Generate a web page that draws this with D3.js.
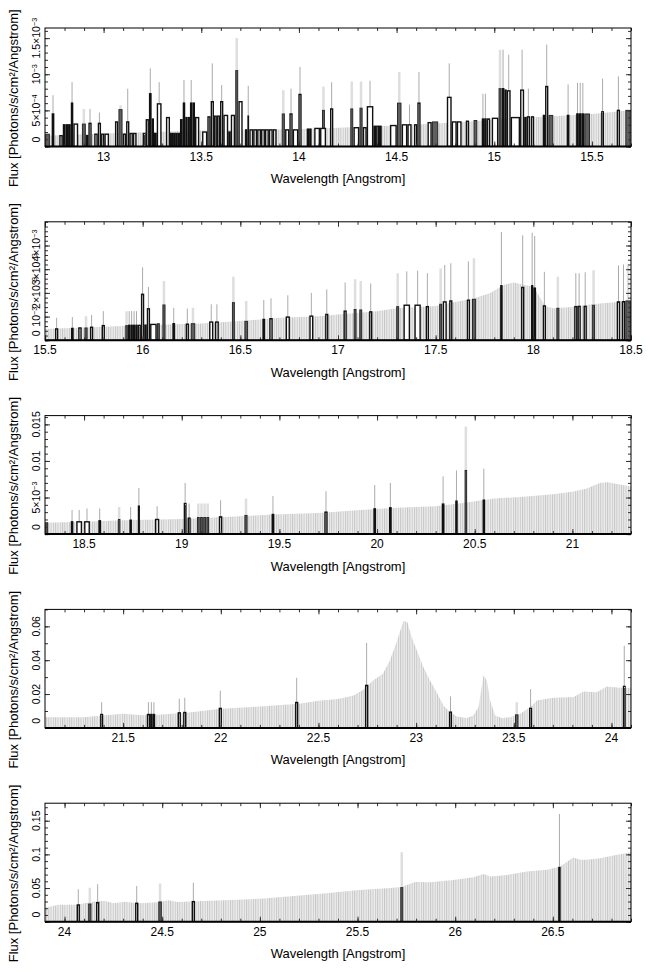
<!doctype html>
<html>
<head>
<meta charset="utf8">
<script src="https://d3js.org/d3.v7.min.js"></script>
<style>
  body { margin: 0; background: #fff; font-family: 'Liberation Sans', Arial, sans-serif; }
</style>
</head>
<body>
<script>
const w = 653, h = 972;
const left = 45, right = 631;
const top0 = 28, gap = 193.8, ph = 118.5;

// x ranges of the five strips (Angstrom)
const xDomains = [[12.7, 15.7], [15.5, 18.5], [18.3, 21.3], [21.1, 24.1], [23.9, 26.9]];
const yMax = [1.64e-3, 5.0e-3, 0.0162, 0.07, 0.176];

// tick labels
const xTicks = [
  [13, 13.5, 14, 14.5, 15, 15.5],
  [15.5, 16, 16.5, 17, 17.5, 18, 18.5],
  [18.5, 19, 19.5, 20, 20.5, 21],
  [21.5, 22, 22.5, 23, 23.5, 24],
  [24, 24.5, 25, 25.5, 26, 26.5]
];
const yTicks = [
  [0, 5e-4, 1e-3, 1.5e-3],
  [0, 1e-3, 2e-3, 3e-3, 4e-3],
  [0, 5e-3, 0.01, 0.015],
  [0, 0.02, 0.04, 0.06],
  [0, 0.05, 0.1, 0.15]
];
const yLabels = [
  ['0', '5×10^−4', '10^−3', '1.5×10^−3'],
  ['0', '10^−3', '2×10^−3', '3×10^−3', '4×10^−3'],
  ['0', '5×10^−3', '0.01', '0.015'],
  ['0', '0.02', '0.04', '0.06'],
  ['0', '0.05', '0.1', '0.15']
];
const yMinor = [1e-4, 2e-4, 1e-3, 0.01, 0.01];

// model curves [wavelength, flux]
const model1 = [[12.7,1.5e-4],[13.0,1.8e-4],[13.5,2.2e-4],[14.0,2.4e-4],[14.2,2.6e-4],[14.5,2.9e-4],
  [14.7,3.2e-4],[14.9,3.5e-4],[15.1,3.9e-4],[15.3,4.2e-4],[15.5,4.5e-4],[15.7,5.0e-4]];
const model2 = [[15.5,0.48e-3],[15.8,0.57e-3],[16.0,0.64e-3],[16.3,0.71e-3],[16.5,0.81e-3],[16.7,0.95e-3],
  [16.9,1.02e-3],[17.0,1.09e-3],[17.2,1.23e-3],[17.3,1.35e-3],[17.5,1.45e-3],[17.6,1.62e-3],[17.7,1.77e-3],
  [17.78,2.0e-3],[17.85,2.34e-3],[17.9,2.44e-3],[17.95,2.34e-3],[18.0,2.26e-3],[18.03,1.87e-3],[18.06,1.45e-3],
  [18.1,1.35e-3],[18.2,1.4e-3],[18.3,1.52e-3],[18.4,1.59e-3],[18.5,1.66e-3]];
const model3 = [[18.3,1.55e-3],[18.5,1.68e-3],[18.7,1.9e-3],[19.0,2.05e-3],[19.3,2.45e-3],[19.5,2.7e-3],
  [19.7,2.9e-3],[19.9,3.27e-3],[20.1,3.6e-3],[20.3,3.8e-3],[20.45,4.3e-3],[20.6,4.86e-3],[20.75,5.1e-3],
  [20.9,5.45e-3],[21.0,5.8e-3],[21.07,6.2e-3],[21.14,7.0e-3],[21.18,7.1e-3],[21.3,6.5e-3]];
const model4 = [[21.1,6.3e-3],[21.3,6.3e-3],[21.35,6.9e-3],[21.5,8.3e-3],[21.6,7.5e-3],[21.7,7.9e-3],
  [21.85,9.3e-3],[22.0,1.13e-2],[22.2,1.26e-2],[22.4,1.42e-2],[22.5,1.6e-2],[22.6,1.7e-2],[22.68,1.92e-2],
  [22.73,2.25e-2],[22.78,2.8e-2],[22.83,3.2e-2],[22.866,4.0e-2],[22.9,5.07e-2],[22.935,6.32e-2],
  [22.955,6.26e-2],[22.977,5.37e-2],[23.003,4.58e-2],[23.037,3.6e-2],[23.071,2.8e-2],[23.105,2.11e-2],
  [23.14,1.32e-2],[23.174,9.3e-3],[23.208,6.7e-3],[23.259,5.9e-3],[23.293,7.3e-3],[23.319,1.22e-2],
  [23.345,3.1e-2],[23.362,2.8e-2],[23.379,1.62e-2],[23.404,7.3e-3],[23.438,5.9e-3],[23.481,6.3e-3],
  [23.532,8.3e-3],[23.584,1.22e-2],[23.618,1.62e-2],[23.703,1.78e-2],[23.806,1.82e-2],[23.857,2.15e-2],
  [23.925,2.11e-2],[23.976,2.45e-2],[24.044,2.37e-2],[24.1,2.37e-2]];
const model5 = [[23.9,2.09e-2],[23.97,2.5e-2],[24.055,2.5e-2],[24.175,3.08e-2],[24.21,3.08e-2],[24.25,2.73e-2],
  [24.31,2.98e-2],[24.38,2.73e-2],[24.48,2.88e-2],[24.53,3.18e-2],[24.58,2.93e-2],[24.71,3.08e-2],
  [24.85,3.23e-2],[25.02,3.43e-2],[25.19,3.87e-2],[25.34,4.22e-2],[25.39,4.37e-2],[25.51,4.72e-2],
  [25.65,4.97e-2],[25.727,5.16e-2],[25.752,5.46e-2],[25.795,5.91e-2],[25.871,5.86e-2],[25.991,6.2e-2],
  [26.093,6.6e-2],[26.145,7.1e-2],[26.18,6.7e-2],[26.265,6.95e-2],[26.367,7.45e-2],[26.47,7.7e-2],
  [26.537,8.2e-2],[26.58,9.04e-2],[26.605,9.53e-2],[26.64,9.2e-2],[26.674,9.2e-2],[26.742,9.43e-2],
  [26.81,9.83e-2],[26.9,1.03e-1]];

// data bins [lo, hi, flux, upper error] - open (black outline) spectrum
const open1 = [[12.734,12.748,4.5e-4,7.1e-4],[12.773,12.791,1.5e-4,null],[12.791,12.805,3.0e-4,null],
  [12.805,12.818,3.0e-4,null],[12.818,12.832,3.0e-4,null],[12.832,12.845,6.0e-4,8.9e-4],[12.845,12.870,3.1e-4,null],
  [12.910,12.922,1.5e-4,null],[12.922,12.939,3.2e-4,5.2e-4],[12.952,12.970,1.7e-4,null],[12.970,12.987,3.2e-4,4.7e-4],
  [12.987,13.004,1.7e-4,null],[13.004,13.028,1.7e-4,null],[13.058,13.075,3.4e-4,null],[13.098,13.115,1.7e-4,null],
  [13.115,13.132,3.4e-4,8.0e-4],[13.132,13.150,1.8e-4,null],[13.150,13.169,1.8e-4,null],[13.200,13.215,1.8e-4,null],
  [13.215,13.232,3.7e-4,null],[13.232,13.246,7.3e-4,1.08e-3],[13.246,13.258,3.8e-4,null],[13.258,13.272,1.8e-4,null],
  [13.272,13.297,5.9e-4,8.9e-4],[13.319,13.340,4.0e-4,null],[13.340,13.350,1.8e-4,null],[13.350,13.360,1.8e-4,null],
  [13.360,13.370,1.8e-4,null],[13.370,13.380,1.8e-4,null],[13.380,13.391,1.8e-4,null],[13.391,13.405,3.7e-4,null],
  [13.405,13.418,6.0e-4,9.2e-4],[13.418,13.430,4.0e-4,null],[13.430,13.442,4.0e-4,null],[13.442,13.455,6.0e-4,9.2e-4],
  [13.455,13.468,6.0e-4,null],[13.468,13.490,4.0e-4,null],[13.504,13.531,2.0e-4,null],[13.531,13.548,4.1e-4,null],
  [13.548,13.565,6.2e-4,1.15e-3],[13.565,13.580,4.2e-4,null],[13.580,13.596,4.2e-4,null],[13.596,13.613,6.2e-4,8.5e-4],
  [13.613,13.638,4.3e-4,null],[13.638,13.651,2.0e-4,null],[13.651,13.673,4.3e-4,null],[13.690,13.712,6.2e-4,null],
  [13.724,13.736,2.3e-4,null],[13.736,13.745,4.2e-4,8.4e-4],[13.746,13.766,2.3e-4,null],[13.766,13.786,2.3e-4,null],
  [13.786,13.806,2.3e-4,null],[13.806,13.826,2.3e-4,null],[13.826,13.846,2.3e-4,null],[13.846,13.866,2.3e-4,null],
  [13.866,13.886,2.3e-4,null],[13.929,13.951,2.3e-4,null],[13.951,13.968,4.5e-4,8.0e-4],[13.968,13.997,2.3e-4,null],
  [13.997,14.014,7.2e-4,1.1e-3],[14.040,14.052,2.4e-4,null],[14.052,14.065,2.4e-4,null],[14.078,14.108,2.5e-4,null],
  [14.108,14.139,2.5e-4,null],[14.159,14.176,5.2e-4,8.9e-4],[14.279,14.309,2.6e-4,null],[14.327,14.347,2.6e-4,null],
  [14.347,14.381,5.5e-4,9.1e-4],[14.381,14.395,2.8e-4,null],[14.395,14.410,2.8e-4,null],[14.410,14.424,2.8e-4,null],
  [14.466,14.501,2.9e-4,null],[14.526,14.555,3.0e-4,null],[14.555,14.577,3.0e-4,5.8e-4],[14.589,14.606,3.0e-4,null],
  [14.606,14.623,6.0e-4,1.03e-3],[14.658,14.680,3.3e-4,null],[14.757,14.782,6.8e-4,1.15e-3],[14.782,14.808,3.4e-4,null],
  [14.808,14.833,3.4e-4,null],[14.854,14.871,3.5e-4,null],[14.936,14.948,3.8e-4,7.3e-4],[14.948,14.961,3.8e-4,7.3e-4],
  [14.961,14.979,3.8e-4,null],[14.987,15.021,3.9e-4,null],[15.038,15.052,8.0e-4,1.34e-3],[15.052,15.064,7.8e-4,null],
  [15.064,15.084,7.7e-4,1.27e-3],[15.084,15.132,4.0e-4,null],[15.132,15.153,7.8e-4,1.34e-3],[15.153,15.166,4.0e-4,null],
  [15.166,15.183,4.1e-4,8.0e-4],[15.187,15.204,4.1e-4,null],[15.248,15.260,4.3e-4,null],[15.260,15.277,8.3e-4,1.41e-3],
  [15.371,15.385,4.3e-4,8.6e-4],[15.419,15.433,4.5e-4,8.8e-4],[15.433,15.447,4.5e-4,8.8e-4],[15.447,15.460,4.5e-4,8.8e-4],
  [15.547,15.562,4.8e-4,9.4e-4],[15.627,15.644,5.0e-4,9.7e-4]];
const open2 = [[15.551,15.568,0.48e-3,0.95e-3],[15.633,15.647,0.50e-3,0.98e-3],[15.670,15.688,0.52e-3,null],
  [15.730,15.747,0.55e-3,1.07e-3],[15.790,15.807,0.62e-3,1.23e-3],[15.925,15.937,0.63e-3,1.23e-3],
  [15.937,15.950,0.63e-3,1.23e-3],[15.950,15.962,0.63e-3,1.23e-3],[15.962,15.975,0.63e-3,1.23e-3],
  [15.975,15.991,0.63e-3,null],[15.991,16.008,1.94e-3,3.08e-3],[16.008,16.021,0.64e-3,null],
  [16.021,16.038,1.33e-3,2.25e-3],[16.038,16.072,0.67e-3,null],[16.152,16.166,0.70e-3,1.37e-3],
  [16.220,16.237,0.68e-3,1.34e-3],[16.340,16.362,0.77e-3,1.52e-3],[16.370,16.390,0.77e-3,1.52e-3],
  [16.613,16.627,0.88e-3,1.70e-3],[16.648,16.666,0.91e-3,1.77e-3],[16.732,16.754,0.98e-3,1.90e-3],
  [16.853,16.874,1.02e-3,2.00e-3],[16.934,16.951,1.09e-3,2.15e-3],[17.028,17.045,1.23e-3,2.44e-3],
  [17.159,17.176,1.20e-3,2.40e-3],[17.335,17.369,1.48e-3,2.91e-3],[17.391,17.424,1.48e-3,2.94e-3],
  [17.449,17.466,1.42e-3,2.83e-3],[17.536,17.557,1.62e-3,3.18e-3],[17.569,17.586,1.66e-3,3.25e-3],
  [17.659,17.676,1.69e-3,3.33e-3],[17.830,17.843,2.30e-3,4.57e-3],[17.937,17.954,2.23e-3,4.43e-3],
  [17.988,18.000,2.30e-3,4.54e-3],[18.000,18.014,2.20e-3,4.40e-3],[18.048,18.065,1.45e-3,2.89e-3],
  [18.209,18.226,1.42e-3,2.83e-3],[18.226,18.243,1.43e-3,2.83e-3],[18.257,18.274,1.43e-3,2.87e-3],
  [18.427,18.445,1.62e-3,3.16e-3],[18.453,18.470,1.63e-3,3.20e-3]];
const open3 = [[18.432,18.445,1.68e-3,3.3e-3],[18.460,18.490,1.68e-3,3.3e-3],[18.500,18.530,1.68e-3,3.5e-3],
  [18.573,18.587,1.82e-3,3.5e-3],[18.732,18.745,1.90e-3,3.7e-3],[18.775,18.786,3.82e-3,6.3e-3],
  [18.863,18.885,2.00e-3,3.8e-3],[19.010,19.025,4.18e-3,7.0e-3],[19.030,19.046,2.18e-3,4.18e-3],
  [19.190,19.208,2.36e-3,4.64e-3],[19.460,19.474,2.68e-3,5.2e-3],[19.730,19.747,3.00e-3,5.86e-3],
  [19.981,19.995,3.45e-3,6.7e-3],[20.061,20.075,3.60e-3,7.0e-3],[20.331,20.345,4.10e-3,7.9e-3],
  [20.400,20.413,4.50e-3,8.7e-3],[20.540,20.553,4.64e-3,8.95e-3]];
const open4 = [[21.382,21.398,7.9e-3,1.52e-2],[21.621,21.638,7.9e-3,1.52e-2],[21.638,21.651,7.9e-3,1.52e-2],
  [21.651,21.664,7.9e-3,1.52e-2],[21.779,21.796,8.9e-3,1.72e-2],[21.807,21.824,9.1e-3,1.78e-2],
  [21.989,22.006,1.15e-2,2.2e-2],[22.380,22.397,1.5e-2,2.96e-2],[22.738,22.755,2.51e-2,5.02e-2],
  [23.168,23.184,9.3e-3,1.86e-2],[23.578,23.594,1.15e-2,2.29e-2],[24.058,24.073,2.45e-2,4.84e-2]];
const open5 = [[24.062,24.079,2.48e-2,4.82e-2],[24.161,24.178,2.83e-2,5.56e-2],[24.361,24.378,2.73e-2,5.3e-2],
  [24.651,24.668,2.98e-2,5.81e-2],[26.527,26.540,8.04e-2,1.6e-1]];

// data bins [lo, hi, flux, upper error] - filled (dark grey) spectrum
const fill1 = [[12.700,12.726,1.7e-4,null],[12.888,12.910,3.1e-4,5.2e-4],[13.075,13.098,5.1e-4,5.7e-4],
  [13.673,13.690,1.05e-3,1.5e-3],[13.911,13.929,4.5e-4,7.8e-4],[14.117,14.134,5.0e-4,8.3e-4],
  [14.262,14.279,5.2e-4,9.0e-4],[14.309,14.327,5.3e-4,9.0e-4],[14.501,14.526,6.0e-4,1.03e-3],
  [14.680,14.714,3.4e-4,null],[14.893,14.914,3.6e-4,null],[15.021,15.038,8.0e-4,1.34e-3],
  [15.277,15.303,4.3e-4,null],[15.460,15.491,4.5e-4,null],[15.670,15.699,5.0e-4,null]];
const fill2 = [[15.701,15.719,0.52e-3,1.02e-3],[15.910,15.925,0.62e-3,1.23e-3],[16.072,16.089,0.70e-3,null],
  [16.100,16.118,1.49e-3,2.5e-3],[16.245,16.270,0.70e-3,1.37e-3],[16.456,16.473,1.59e-3,2.68e-3],
  [16.520,16.540,0.80e-3,1.66e-3],[17.079,17.096,1.30e-3,2.58e-3],[17.108,17.125,1.28e-3,2.5e-3],
  [17.297,17.314,1.42e-3,2.83e-3],[17.517,17.534,1.52e-3,3.03e-3],[17.685,17.707,1.73e-3,3.46e-3],
  [18.117,18.134,1.35e-3,2.68e-3],[18.300,18.317,1.48e-3,2.96e-3],[18.470,18.500,1.66e-3,3.2e-3]];
const fill3 = [[18.300,18.317,1.55e-3,null],[18.672,18.687,2.0e-3,3.7e-3],[19.077,19.093,2.27e-3,4.18e-3],
  [19.093,19.109,2.27e-3,4.18e-3],[19.109,19.125,2.27e-3,4.18e-3],[19.125,19.141,2.27e-3,4.18e-3],
  [19.320,19.338,2.55e-3,4.86e-3],[20.447,20.462,8.7e-3,1.47e-2]];
const fill4 = [[23.505,23.525,7.7e-3,1.52e-2]];
const fill5 = [[24.120,24.139,2.63e-2,5.06e-2],[24.479,24.499,2.93e-2,5.66e-2],[25.718,25.735,5.06e-2,1.03e-1]];

const models = [model1, model2, model3, model4, model5];
const opens = [open1, open2, open3, open4, open5];
const fills = [fill1, fill2, fill3, fill4, fill5];

const svg = d3.select('body').append('svg')
  .attr('width', w).attr('height', h);

const defs = svg.append('defs');
const pat = defs.append('pattern').attr('id', 'hatch')
  .attr('patternUnits', 'userSpaceOnUse').attr('width', 2.3).attr('height', 6);
pat.append('rect').attr('width', 2.3).attr('height', 6).attr('fill', '#ededed');
pat.append('line').attr('x1', 0.5).attr('x2', 0.5).attr('y1', 0).attr('y2', 6)
  .attr('stroke', '#c4c4c4').attr('stroke-width', 0.9);

function supText(sel, s) {
  const parts = s.split('^');
  sel.append('tspan').text(parts[0]);
  if (parts[1]) sel.append('tspan').attr('dy', '-0.45em').attr('font-size', '0.7em').text(parts[1]);
}

const sw = 1.4; // outline width of the data bins
xDomains.forEach((dom, i) => {
  const t = top0 + i * gap;
  const b = t + ph;
  const x = d3.scaleLinear().domain(dom).range([left, right]);
  const y = d3.scaleLinear().domain([0, yMax[i]]).range([b, t]);

  defs.append('clipPath').attr('id', 'clip' + i)
    .append('rect').attr('x', left).attr('y', t).attr('width', right - left).attr('height', ph);

  const g = svg.append('g').attr('clip-path', `url(#clip${i})`);

  // model
  g.append('path').datum(models[i])
    .attr('d', d3.area().x(d => x(d[0])).y0(b).y1(d => y(d[1])))
    .attr('fill', 'url(#hatch)');

  // error bars
  g.selectAll('.efill').data(fills[i].filter(d => d[3] != null)).enter().append('line')
    .attr('x1', d => x((d[0] + d[1]) / 2)).attr('x2', d => x((d[0] + d[1]) / 2))
    .attr('y1', d => y(d[2])).attr('y2', d => y(d[3]))
    .attr('stroke', '#dedede').attr('stroke-width', 2.5);
  g.selectAll('.eopen').data(opens[i].filter(d => d[3] != null)).enter().append('line')
    .attr('x1', d => x((d[0] + d[1]) / 2)).attr('x2', d => x((d[0] + d[1]) / 2))
    .attr('y1', d => y(d[2])).attr('y2', d => y(d[3]))
    .attr('stroke', '#ababab').attr('stroke-width', 1);

  const bx = d => x(d[0]) + sw / 2;
  const bw = d => Math.max(0.3, x(d[1]) - x(d[0]) - sw);

  // filled spectrum
  g.selectAll('.bfill').data(fills[i]).enter().append('rect')
    .attr('x', bx).attr('width', bw)
    .attr('y', d => y(d[2])).attr('height', d => b - y(d[2]))
    .attr('fill', '#5f5f5f').attr('stroke', '#2a2a2a').attr('stroke-width', 1);

  // open spectrum
  g.selectAll('.bopen').data(opens[i]).enter().append('rect')
    .attr('x', bx).attr('width', bw)
    .attr('y', d => y(d[2])).attr('height', d => b - y(d[2]))
    .attr('fill', '#fff').attr('stroke', '#111').attr('stroke-width', sw);

  // axes
  const minorX = d3.range(Math.ceil(dom[0] * 10 + 1e-6), Math.floor(dom[1] * 10 + 1e-6) + 1).map(v => v / 10);
  const minorY = d3.range(0, yMax[i] + 1e-12, yMinor[i]);
  const ax = [
    [d3.axisBottom(x).tickValues(minorX).tickSize(-3), b],
    [d3.axisTop(x).tickValues(minorX).tickSize(-3), t],
    [d3.axisBottom(x).tickValues(xTicks[i]).tickSize(-5), b],
    [d3.axisTop(x).tickValues(xTicks[i]).tickSize(-5), t]
  ];
  ax.forEach(([a, yy]) => {
    svg.append('g').attr('transform', `translate(0,${yy})`)
      .call(a.tickFormat(''))
      .call(s => s.select('.domain').remove())
      .call(s => s.selectAll('line').attr('stroke', '#333'));
  });
  const ay = [
    [d3.axisLeft(y).tickValues(minorY).tickSize(-3), left],
    [d3.axisRight(y).tickValues(minorY).tickSize(-3), right],
    [d3.axisLeft(y).tickValues(yTicks[i]).tickSize(-5), left],
    [d3.axisRight(y).tickValues(yTicks[i]).tickSize(-5), right]
  ];
  ay.forEach(([a, xx]) => {
    svg.append('g').attr('transform', `translate(${xx},0)`)
      .call(a.tickFormat(''))
      .call(s => s.select('.domain').remove())
      .call(s => s.selectAll('line').attr('stroke', '#333'));
  });

  // frame
  svg.append('rect').attr('x', left).attr('y', t).attr('width', right - left).attr('height', ph)
    .attr('fill', 'none').attr('stroke', '#000').attr('stroke-width', 1);
  svg.append('line').attr('x1', left).attr('x2', right).attr('y1', b).attr('y2', b)
    .attr('stroke', '#000').attr('stroke-width', 2);

  // x tick labels
  svg.append('g').selectAll('text').data(xTicks[i]).enter().append('text')
    .attr('x', d => x(d)).attr('y', b + 14)
    .attr('text-anchor', 'middle').attr('font-size', 12)
    .text(d => d);

  // y tick labels (the zero label is lifted off the bottom edge)
  yTicks[i].forEach((v, k) => {
    const ty = v === 0 ? y(v) - 7 : y(v);
    const tx = svg.append('text')
      .attr('transform', `translate(40,${ty}) rotate(-90)`)
      .attr('text-anchor', 'middle').attr('font-size', 10.5);
    supText(tx, yLabels[i][k]);
  });

  // titles
  svg.append('text').attr('x', (left + right) / 2).attr('y', b + 36.5)
    .attr('text-anchor', 'middle').attr('font-size', 13)
    .text('Wavelength [Angstrom]');
  svg.append('text')
    .attr('transform', `translate(18,${(t + b) / 2 + 11}) rotate(-90)`)
    .attr('text-anchor', 'middle').attr('font-size', 13)
    .text('Flux [Photons/s/cm²/Angstrom]');
});
</script>
</body>
</html>
